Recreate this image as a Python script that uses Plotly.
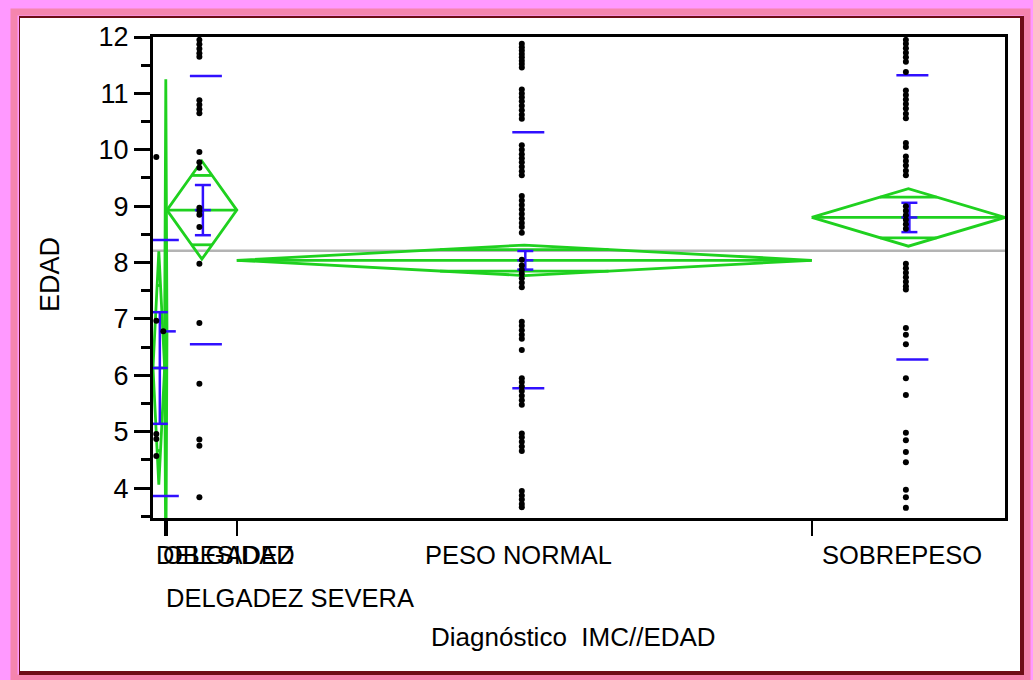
import math
import plotly.graph_objects as go

# ---------------- data ----------------
groups = ["DELGADEZ", "DELGADEZ SEVERA", "OBESIDAD", "PESO NORMAL", "SOBREPESO"]
counts = [5, 1, 30, 247, 83]
means = [6.13, 6.78, 8.93, 8.04, 8.80]
ci_half = [2.07, 4.47, 0.87, 0.27, 0.51]      # 95% CI half-width (means diamonds)
se_half = [0.99, None, 0.445, 0.165, 0.26]    # mean error bars
sd = [2.27, None, 2.38, 2.27, 2.52]           # std dev lines
grand_mean = 8.21

ages_delgadez = [9.87, 6.97, 4.96, 4.87, 4.57]
ages_delgadez_severa = [6.78]
ages_obesidad = [11.95, 11.87, 11.79, 11.71, 11.65, 10.88, 10.80, 10.72, 10.65,
                 9.96, 9.78, 9.68, 8.97, 8.92, 8.85, 8.63, 7.98, 6.93, 5.85,
                 4.86, 4.75, 3.84]
ages_peso_normal = [11.88, 11.82, 11.76, 11.70, 11.64, 11.58, 11.52, 11.46,
                    11.07, 11.00, 10.93, 10.86, 10.78, 10.70, 10.62, 10.55,
                    10.08, 10.00, 9.92, 9.85, 9.78, 9.70, 9.62, 9.55,
                    9.18, 9.10, 9.02, 8.94, 8.86, 8.78, 8.70, 8.63, 8.53,
                    8.05, 7.95, 7.87, 7.80, 7.72, 7.64, 7.56,
                    6.95, 6.88, 6.80, 6.72, 6.65, 6.45,
                    5.95, 5.88, 5.80, 5.72, 5.64, 5.56, 5.48,
                    4.97, 4.90, 4.82, 4.74, 4.66,
                    3.95, 3.87, 3.80, 3.72, 3.66]
ages_sobrepeso = [11.95, 11.88, 11.80, 11.72, 11.64, 11.56, 11.38,
                  11.05, 10.97, 10.89, 10.81, 10.73, 10.64, 10.56,
                  10.12, 10.05, 9.88, 9.80, 9.72, 9.63, 9.55,
                  9.00, 8.92, 8.84, 8.76, 8.68, 8.60,
                  7.98, 7.90, 7.82, 7.74, 7.66, 7.58, 7.52,
                  6.84, 6.72, 6.55,
                  5.95, 5.65,
                  4.98, 4.85, 4.64, 4.46,
                  3.97, 3.84, 3.65]
ages = [ages_delgadez, ages_delgadez_severa, ages_obesidad, ages_peso_normal, ages_sobrepeso]

y_ticks = [4, 5, 6, 7, 8, 9, 10, 11, 12]

# ---------------- layout geometry ----------------
W, H = 1033, 680
PL, PR, PT, PB = 153, 1005, 37, 518
total = sum(counts)
upx = total / (PR - PL)          # data units per pixel

GREEN = "#1fd11f"
BLUE = "#3010ff"
FONT = "Liberation Sans, Arial, sans-serif"

starts = []
acc = 0
for n in counts:
    starts.append(acc)
    acc += n

fig = go.Figure()

# grand mean line
fig.add_trace(go.Scatter(x=[0, total], y=[grand_mean, grand_mean], mode="lines",
                         line=dict(color="#b4b4b4", width=2.5), hoverinfo="skip"))

# means diamonds
gx, gy = [], []
k = 1 / math.sqrt(2)
for s, n, m, h in zip(starts, counts, means, ci_half):
    e = s + n
    c = s + n / 2
    gx += [s, c, e, c, s, None, s, e, None]
    gy += [m, m + h, m, m - h, m, None, m, m, None]
    half_w = (1 - k) * n / 2
    for yy in (m + h * k, m - h * k):
        gx += [c - half_w, c + half_w, None]
        gy += [yy, yy, None]
fig.add_trace(go.Scatter(x=gx, y=gy, mode="lines", line=dict(color=GREEN, width=2.8),
                         hoverinfo="skip"))

# blue: std dev lines, error bars
bx, by = [], []
for s, n, m, se, sdv in zip(starts, counts, means, se_half, sd):
    c = s + n / 2
    if sdv is not None:
        for yy in (m + sdv, m - sdv):
            bx += [c + (4 - 16) * upx, c + (4 + 16) * upx, None]
            by += [yy, yy, None]
    if se is not None:
        xc = c + 1 * upx
        bx += [xc, xc, None]
        by += [m - se, m + se, None]
        for yy in (m + se, m, m - se):
            bx += [xc - 8 * upx, xc + 8 * upx, None]
            by += [yy, yy, None]
    else:
        bx += [c - 4 * upx, c + 10 * upx, None]
        by += [m, m, None]
fig.add_trace(go.Scatter(x=bx, y=by, mode="lines", line=dict(color=BLUE, width=2.5),
                         hoverinfo="skip"))

# points
px_, py_ = [], []
for s, n, vals in zip(starts, counts, ages):
    c = s + n / 2 - 2.5 * upx
    px_ += [c] * len(vals)
    py_ += vals
fig.add_trace(go.Scatter(x=px_, y=py_, mode="markers",
                         marker=dict(color="black", size=6, line=dict(width=0)),
                         hoverinfo="skip"))

# ---------------- frame shapes ----------------
def fx(p):
    return (p - PL) / (PR - PL)

def fy(p):
    return 1 - (p - PT) / (PB - PT)

shapes = [
    dict(type="rect", xref="paper", yref="paper", x0=fx(14), x1=fx(1027), y0=fy(12), y1=fy(678),
         line=dict(color="rgba(238,120,120,0.6)", width=7), fillcolor="rgba(0,0,0,0)", layer="below"),
    dict(type="rect", xref="paper", yref="paper", x0=fx(19), x1=fx(1024), y0=fy(16), y1=fy(675),
         line=dict(width=0), fillcolor="#6e0c16", layer="below"),
    dict(type="rect", xref="paper", yref="paper", x0=fx(20), x1=fx(1020), y0=fy(18), y1=fy(671),
         line=dict(width=0), fillcolor="white", layer="below"),
]

# ---------------- labels ----------------
ann = []
row1 = fy(555)
row2 = fy(598)
centers = [s + n / 2 for s, n in zip(starts, counts)]
ann.append(dict(text=groups[0], x=starts[0], xanchor="left", xshift=1, y=row1))
ann.append(dict(text=groups[2], x=starts[0], xanchor="left", xshift=8, y=row1))
ann.append(dict(text=groups[1], x=starts[1], xanchor="left", xshift=-1, y=row2))
ann.append(dict(text=groups[3], x=centers[3], xanchor="center", xshift=-6, y=row1))
ann.append(dict(text=groups[4], x=centers[4], xanchor="center", xshift=-6, y=row1))
annotations = []
for a in ann:
    a.update(xref="x", yref="paper", yanchor="middle", showarrow=False,
             font=dict(family=FONT, size=25.5, color="black"))
    annotations.append(a)
annotations.append(dict(text="Diagnóstico  IMC//EDAD", xref="paper", yref="paper",
                        x=fx(573), y=fy(637), xanchor="center", yanchor="middle",
                        showarrow=False, font=dict(family=FONT, size=26, color="black")))
annotations.append(dict(text="EDAD", xref="paper", yref="paper", x=fx(50), y=fy(275),
                        xanchor="center", yanchor="middle", textangle=-90,
                        showarrow=False, font=dict(family=FONT, size=27, color="black")))

fig.update_layout(
    width=W, height=H,
    margin=dict(l=PL, r=W - PR, t=PT, b=H - PB, autoexpand=False),
    paper_bgcolor="#ff99ff",
    plot_bgcolor="white",
    showlegend=False,
    shapes=shapes,
    annotations=annotations,
    xaxis=dict(range=[0, total], showgrid=False, zeroline=False,
               showline=True, linecolor="black", linewidth=3, mirror=True,
               tickvals=[s + n for s, n in zip(starts[:-1], counts[:-1])],
               ticks="outside", ticklen=15, tickwidth=2, tickcolor="black",
               showticklabels=False, fixedrange=True),
    yaxis=dict(range=[3.47, 12.0], showgrid=False, zeroline=False,
               showline=True, linecolor="black", linewidth=3, mirror=True,
               tickvals=y_ticks, ticktext=[str(t) for t in y_ticks],
               ticks="outside", ticklen=16, tickwidth=3, tickcolor="black",
               tickfont=dict(family=FONT, size=27, color="black"),
               minor=dict(tickvals=[t - 0.5 for t in y_ticks], ticks="outside",
                          ticklen=9, tickwidth=3, tickcolor="black"),
               fixedrange=True),
)

fig.write_html("out.html", config={"displayModeBar": False},
               post_script="document.body.style.margin='0';document.body.style.padding='0';"
                           "document.body.style.overflow='hidden';"
                           "document.documentElement.style.background='#ff99ff';")
